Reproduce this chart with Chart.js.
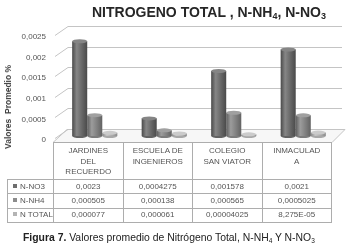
<!DOCTYPE html>
<html><head><meta charset="utf-8">
<script src="https://cdn.jsdelivr.net/npm/chart.js@4/dist/chart.umd.min.js"></script>
<style>
html,body{margin:0;padding:0;background:#fff;}
#wrap{position:relative;width:353px;height:248px;overflow:hidden;font-family:"Liberation Sans",Arial,sans-serif;}
#c{position:absolute;left:0;top:0;}
#title{position:absolute;left:80px;width:258px;top:4px;text-align:center;font-weight:bold;font-size:14px;color:#262626;white-space:nowrap;}
#title sub{font-size:9px;vertical-align:-2px;line-height:0;}
#ytitle{position:absolute;left:8px;top:107px;transform:translate(-50%,-50%) rotate(-90deg);font-weight:bold;font-size:8.5px;color:#404040;white-space:nowrap;}
#tbl{position:absolute;left:7px;top:142px;border-collapse:collapse;table-layout:fixed;font-size:8px;color:#555;}
#tbl td{border:1px solid #adadad;padding:0;text-align:center;height:13.3px;line-height:12px;white-space:nowrap;overflow:hidden;}
#tbl td.cat{height:33px;vertical-align:top;line-height:10.7px;padding-top:3px;}
#tbl td.corner{border-top:none;border-left:none;}
#tbl td.leg{text-align:left;padding-left:5px;}
.sw{display:inline-block;width:4px;height:4px;margin-right:3px;vertical-align:1px;}
#cap{position:absolute;left:23px;top:232px;font-size:10.4px;color:#222;white-space:nowrap;}
#cap b{font-weight:bold;}
#cap sub{font-size:6.5px;vertical-align:-2px;line-height:0;}
</style></head>
<body>
<div id="wrap">
<canvas id="c" width="353" height="248"></canvas>
<div id="title">NITROGENO TOTAL , N-NH<sub>4</sub>, N-NO<sub>3</sub></div>
<div id="ytitle">Valores&nbsp; Promedio %</div>
<table id="tbl"></table>
<div id="cap"><b>Figura 7.</b> Valores promedio de Nitrógeno Total, N-NH<sub>4</sub> Y N-NO<sub>3</sub></div>
</div>
<script>
// ---- data ----
const categories = [['JARDINES','DEL','RECUERDO'],['ESCUELA DE','INGENIEROS'],['COLEGIO','SAN VIATOR'],['INMACULAD','A']];
const seriesNames = ['N-NO3','N-NH4','N TOTAL'];
const no3Text = ['0,0023','0,0004275','0,001578','0,0021'];
const nh4Text = ['0,000505','0,000138','0,000565','0,0005025'];
const nTotalText = ['0,000077','0,000061','0,00004025','8,275E-05'];
const yTickValues = [0,0.0005,0.001,0.0015,0.002,0.0025];

const toNum = s => parseFloat(s.replace(',','.'));
const no3 = no3Text.map(toNum);
const nh4 = nh4Text.map(toNum);
const nTotal = nTotalText.map(toNum);
const seriesText = [no3Text, nh4Text, nTotalText];

const shades = [
  ['#4a4a4a','#868686','#636363','#4a4a4a'],
  ['#5e5e5e','#9c9c9c','#7c7c7c','#626262'],
  ['#888888','#c4c4c4','#a8a8a8','#8c8c8c']
];
const capCol = ['#858585','#a0a0a0','#cbcbcb'];
const swatch = ['#6e6e6e','#8c8c8c','#b4b4b4'];
const CAT_PCT = 0.65;
const DX = 7;

function barFill(ctx){
  const chart = ctx.chart, xs = chart.scales && chart.scales.x;
  const sh = shades[ctx.datasetIndex];
  if (ctx.type !== 'data' || !xs || !chart.chartArea) return sh[2];
  const catW = (xs.right - xs.left) / categories.length;
  const group = catW * CAT_PCT, bw = group / 3;
  const x0 = xs.getPixelForValue(ctx.dataIndex) - group/2 + ctx.datasetIndex*bw;
  const g = chart.ctx.createLinearGradient(x0, 0, x0 + bw, 0);
  g.addColorStop(0, sh[0]); g.addColorStop(0.3, sh[1]); g.addColorStop(0.7, sh[2]); g.addColorStop(1, sh[3]);
  return g;
}

const fmt = v => String(Number(v.toFixed(6))).replace('.', ',');

const wallPlugin = {
  id: 'walls',
  beforeDatasetsDraw(chart){
    const {ctx, chartArea: a, scales: {y}} = chart;
    ctx.save();
    ctx.strokeStyle = '#c4c4c4';
    ctx.lineWidth = 1;
    const base = y.getPixelForValue(0);
    ctx.beginPath();
    ctx.moveTo(a.left, base + 6.5);
    ctx.lineTo(a.right + 1, base + 6.5);
    ctx.lineTo(a.right + 14, base - 6.5);
    ctx.lineTo(a.left + 14, base - 6.5);
    ctx.closePath();
    ctx.fillStyle = '#f7f7f7';
    ctx.fill();
    ctx.stroke();
    yTickValues.forEach(v => {
      const py = Math.round(y.getPixelForValue(v)) + 0.5;
      ctx.beginPath();
      ctx.moveTo(a.left + 2, py + 2);
      ctx.lineTo(a.left + 15, py - 7);
      ctx.lineTo(a.right + 11, py - 7);
      ctx.stroke();
    });
    ctx.restore();
    ctx.save();
    ctx.translate(DX, 0);
  },
  afterDatasetsDraw(chart){
    const ctx = chart.ctx;
    chart.data.datasets.forEach((ds, i) => {
      chart.getDatasetMeta(i).data.forEach(el => {
        const w = el.width;
        ctx.beginPath();
        ctx.ellipse(el.x, el.base, w/2, 2, 0, 0, Math.PI);
        ctx.fillStyle = shades[i][2];
        ctx.fill();
        ctx.beginPath();
        ctx.ellipse(el.x, el.y, w/2, 2, 0, 0, Math.PI*2);
        ctx.fillStyle = capCol[i];
        ctx.fill();
      });
    });
    ctx.restore();
  }
};

const chart = new Chart(document.getElementById('c'), {
  type: 'bar',
  data: {
    labels: categories,
    datasets: [
      {label: seriesNames[0], data: no3, backgroundColor: barFill},
      {label: seriesNames[1], data: nh4, backgroundColor: barFill},
      {label: seriesNames[2], data: nTotal, backgroundColor: barFill}
    ]
  },
  options: {
    responsive: false,
    animation: false,
    events: [],
    clip: false,
    layout: {padding: {left: 0, right: 22, top: 33, bottom: 112}},
    datasets: {bar: {categoryPercentage: CAT_PCT, barPercentage: 1, borderWidth: 0}},
    plugins: {legend: {display: false}, title: {display: false}, tooltip: {enabled: false}},
    scales: {
      x: {display: false},
      y: {
        min: 0, max: 0.0025,
        afterFit: s => { s.width = 53; },
        afterBuildTicks: s => { s.ticks = yTickValues.map(v => ({value: v})); },
        grid: {display: false, drawTicks: false},
        border: {display: false},
        ticks: {padding: 7, labelOffset: 4, color: '#555', font: {family: 'Liberation Sans', size: 8}, callback: v => fmt(v)}
      }
    }
  },
  plugins: [wallPlugin]
});

(function(){
  const a = chart.chartArea;
  const catW = (a.right - a.left) / categories.length;
  const tbl = document.getElementById('tbl');
  let h = '<colgroup><col style="width:' + (a.left - 7) + 'px">' +
    categories.map(() => '<col style="width:' + catW + 'px">').join('') + '</colgroup>';
  h += '<tr><td class="corner"></td>' + categories.map(c => '<td class="cat">' + c.join('<br>') + '</td>').join('') + '</tr>';
  seriesNames.forEach((n, i) => {
    h += '<tr><td class="leg"><span class="sw" style="background:' + swatch[i] + '"></span>' + n + '</td>' +
      seriesText[i].map(t => '<td>' + t + '</td>').join('') + '</tr>';
  });
  tbl.innerHTML = h;
  tbl.style.width = (a.right - 7) + 'px';
})();
</script>
</body></html>
